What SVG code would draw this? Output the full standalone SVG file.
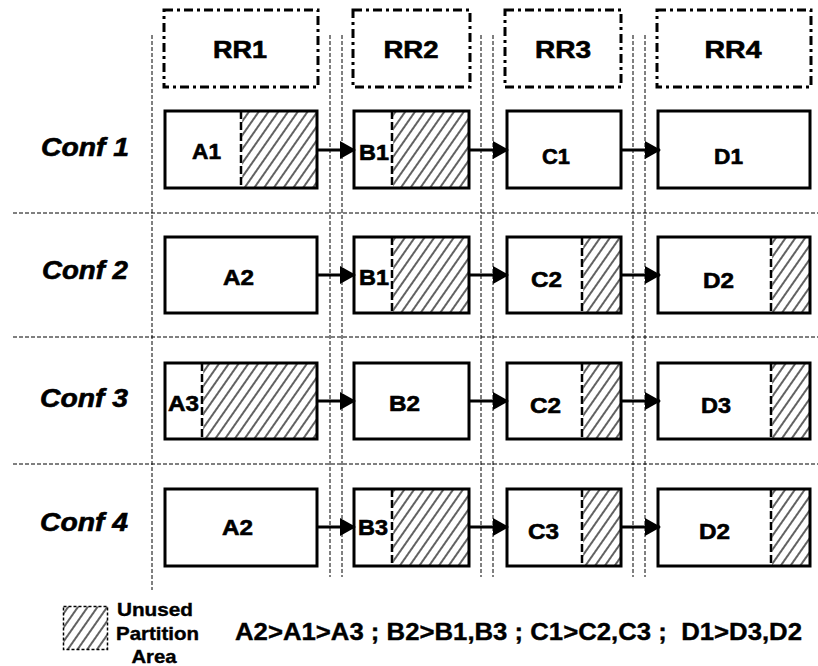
<svg xmlns="http://www.w3.org/2000/svg" width="818" height="666" viewBox="0 0 818 666">
<style>
.t{font-family:"Liberation Sans",Arial,sans-serif;font-weight:bold;fill:#000;stroke:#000;stroke-width:0.6}
.rr{font-size:23.5px;text-anchor:middle}
.lb{font-size:22px}
.cf{font-size:25px;font-style:italic}
.lg{font-size:19px;text-anchor:middle;stroke-width:0.4}
.bt{font-size:24.5px;stroke-width:0.4}
.box{fill:none;stroke:#000;stroke-width:3}
.hdr{fill:#fff;stroke:#000;stroke-width:3;stroke-dasharray:9 4 3 4}
.hat{fill:url(#hatch);stroke:none}
.dvw{stroke:#fff;stroke-width:2.5}
.dv{stroke:#000;stroke-width:2.5;stroke-dasharray:8 3}
.sep{stroke:#000;stroke-width:1;stroke-dasharray:4 2;fill:none}
.arr{stroke:#000;stroke-width:3;fill:none;marker-end:url(#ah)}
</style>
<defs>
<pattern id="hatch" patternUnits="userSpaceOnUse" width="8" height="8" patternTransform="rotate(35)">
<rect width="8" height="8" fill="#fff"/>
<line x1="4" y1="0" x2="4" y2="8" stroke="#3a3a3a" stroke-width="1.6"/>
</pattern>
<marker id="ah" markerUnits="userSpaceOnUse" markerWidth="16" markerHeight="18" refX="15" refY="9" orient="auto">
<path d="M0,0 L16,9 L0,18 z" fill="#000"/>
</marker>
</defs>
<rect width="818" height="666" fill="#fff"/>

<g id="separators">
<line class="sep" x1="13" y1="213" x2="818" y2="213"/>
<line class="sep" x1="13" y1="337" x2="818" y2="337"/>
<line class="sep" x1="13" y1="464" x2="818" y2="464"/>
<line class="sep" x1="152" y1="35" x2="152" y2="590"/>
<line class="sep" x1="330" y1="35" x2="330" y2="577"/>
<line class="sep" x1="342" y1="35" x2="342" y2="577"/>
<line class="sep" x1="481" y1="35" x2="481" y2="577"/>
<line class="sep" x1="493" y1="35" x2="493" y2="577"/>
<line class="sep" x1="633" y1="35" x2="633" y2="577"/>
<line class="sep" x1="645" y1="35" x2="645" y2="577"/>
</g>

<g id="RR1"><rect class="hdr" x="164" y="10" width="154" height="77"/><text class="t rr" x="240" y="58" textLength="54" lengthAdjust="spacingAndGlyphs">RR1</text></g>
<g id="RR2"><rect class="hdr" x="353" y="10" width="117" height="77"/><text class="t rr" x="411" y="58" textLength="55" lengthAdjust="spacingAndGlyphs">RR2</text></g>
<g id="RR3"><rect class="hdr" x="505" y="10" width="116" height="77"/><text class="t rr" x="563" y="58" textLength="56" lengthAdjust="spacingAndGlyphs">RR3</text></g>
<g id="RR4"><rect class="hdr" x="657" y="10" width="154" height="77"/><text class="t rr" x="733" y="58" textLength="57" lengthAdjust="spacingAndGlyphs">RR4</text></g>

<g id="conf1"><text class="t cf" x="41" y="156" textLength="88" lengthAdjust="spacingAndGlyphs">Conf 1</text></g>
<g id="conf2"><text class="t cf" x="42" y="279" textLength="86" lengthAdjust="spacingAndGlyphs">Conf 2</text></g>
<g id="conf3"><text class="t cf" x="40" y="407" textLength="88" lengthAdjust="spacingAndGlyphs">Conf 3</text></g>
<g id="conf4"><text class="t cf" x="40" y="531" textLength="88" lengthAdjust="spacingAndGlyphs">Conf 4</text></g>

<!-- Row 1 -->
<g id="r1-A1"><rect class="hat" x="241" y="111" width="76" height="77"/><line class="dvw" x1="241" y1="111" x2="241" y2="188"/><line class="dv" x1="241" y1="111" x2="241" y2="188"/><rect class="box" x="165" y="111" width="152" height="77"/><text class="t lb" x="192" y="159" textLength="29" lengthAdjust="spacingAndGlyphs">A1</text></g>
<g id="r1-B1"><rect class="hat" x="392" y="111" width="77" height="77"/><line class="dvw" x1="392" y1="111" x2="392" y2="188"/><line class="dv" x1="392" y1="111" x2="392" y2="188"/><rect class="box" x="354" y="111" width="115" height="77"/><text class="t lb" x="359" y="160" textLength="30" lengthAdjust="spacingAndGlyphs">B1</text></g>
<g id="r1-C1"><rect class="box" x="507" y="111" width="114" height="77"/><text class="t lb" x="542" y="164" textLength="28" lengthAdjust="spacingAndGlyphs">C1</text></g>
<g id="r1-D1"><rect class="box" x="658" y="111" width="152" height="77"/><text class="t lb" x="714" y="164" textLength="29" lengthAdjust="spacingAndGlyphs">D1</text></g>

<!-- Row 2 -->
<g id="r2-A2"><rect class="box" x="165" y="237" width="152" height="76"/><text class="t lb" x="223" y="285" textLength="31" lengthAdjust="spacingAndGlyphs">A2</text></g>
<g id="r2-B1"><rect class="hat" x="392" y="237" width="77" height="76"/><line class="dvw" x1="392" y1="237" x2="392" y2="313"/><line class="dv" x1="392" y1="237" x2="392" y2="313"/><rect class="box" x="354" y="237" width="115" height="76"/><text class="t lb" x="359" y="285" textLength="30" lengthAdjust="spacingAndGlyphs">B1</text></g>
<g id="r2-C2"><rect class="hat" x="582" y="237" width="39" height="76"/><line class="dvw" x1="582" y1="237" x2="582" y2="313"/><line class="dv" x1="582" y1="237" x2="582" y2="313"/><rect class="box" x="507" y="237" width="114" height="76"/><text class="t lb" x="531" y="287" textLength="31" lengthAdjust="spacingAndGlyphs">C2</text></g>
<g id="r2-D2"><rect class="hat" x="771" y="237" width="39" height="76"/><line class="dvw" x1="771" y1="237" x2="771" y2="313"/><line class="dv" x1="771" y1="237" x2="771" y2="313"/><rect class="box" x="658" y="237" width="152" height="76"/><text class="t lb" x="703" y="288" textLength="31" lengthAdjust="spacingAndGlyphs">D2</text></g>

<!-- Row 3 -->
<g id="r3-A3"><rect class="hat" x="202" y="363" width="115" height="76"/><line class="dvw" x1="202" y1="363" x2="202" y2="439"/><line class="dv" x1="202" y1="363" x2="202" y2="439"/><rect class="box" x="165" y="363" width="152" height="76"/><text class="t lb" x="168" y="411" textLength="31" lengthAdjust="spacingAndGlyphs">A3</text></g>
<g id="r3-B2"><rect class="box" x="354" y="363" width="115" height="76"/><text class="t lb" x="389" y="411" textLength="31" lengthAdjust="spacingAndGlyphs">B2</text></g>
<g id="r3-C2"><rect class="hat" x="582" y="363" width="39" height="76"/><line class="dvw" x1="582" y1="363" x2="582" y2="439"/><line class="dv" x1="582" y1="363" x2="582" y2="439"/><rect class="box" x="507" y="363" width="114" height="76"/><text class="t lb" x="530" y="413" textLength="31" lengthAdjust="spacingAndGlyphs">C2</text></g>
<g id="r3-D3"><rect class="hat" x="771" y="363" width="39" height="76"/><line class="dvw" x1="771" y1="363" x2="771" y2="439"/><line class="dv" x1="771" y1="363" x2="771" y2="439"/><rect class="box" x="658" y="363" width="152" height="76"/><text class="t lb" x="701" y="413" textLength="30" lengthAdjust="spacingAndGlyphs">D3</text></g>

<!-- Row 4 -->
<g id="r4-A2"><rect class="box" x="165" y="489" width="152" height="77"/><text class="t lb" x="222" y="535" textLength="31" lengthAdjust="spacingAndGlyphs">A2</text></g>
<g id="r4-B3"><rect class="hat" x="392" y="489" width="77" height="77"/><line class="dvw" x1="392" y1="489" x2="392" y2="566"/><line class="dv" x1="392" y1="489" x2="392" y2="566"/><rect class="box" x="354" y="489" width="115" height="77"/><text class="t lb" x="358" y="535" textLength="30" lengthAdjust="spacingAndGlyphs">B3</text></g>
<g id="r4-C3"><rect class="hat" x="582" y="489" width="39" height="77"/><line class="dvw" x1="582" y1="489" x2="582" y2="566"/><line class="dv" x1="582" y1="489" x2="582" y2="566"/><rect class="box" x="507" y="489" width="114" height="77"/><text class="t lb" x="528" y="539" textLength="31" lengthAdjust="spacingAndGlyphs">C3</text></g>
<g id="r4-D2"><rect class="hat" x="771" y="489" width="39" height="77"/><line class="dvw" x1="771" y1="489" x2="771" y2="566"/><line class="dv" x1="771" y1="489" x2="771" y2="566"/><rect class="box" x="658" y="489" width="152" height="77"/><text class="t lb" x="699" y="539" textLength="31" lengthAdjust="spacingAndGlyphs">D2</text></g>

<g id="connectors">
<line class="arr" x1="317" y1="150" x2="355" y2="150"/>
<line class="arr" x1="469" y1="150" x2="508" y2="150"/>
<line class="arr" x1="621" y1="150" x2="660" y2="150"/>
<line class="arr" x1="317" y1="275" x2="355" y2="275"/>
<line class="arr" x1="469" y1="275" x2="508" y2="275"/>
<line class="arr" x1="621" y1="275" x2="660" y2="275"/>
<line class="arr" x1="317" y1="401" x2="355" y2="401"/>
<line class="arr" x1="469" y1="401" x2="508" y2="401"/>
<line class="arr" x1="621" y1="401" x2="660" y2="401"/>
<line class="arr" x1="317" y1="527" x2="355" y2="527"/>
<line class="arr" x1="469" y1="527" x2="508" y2="527"/>
<line class="arr" x1="621" y1="527" x2="660" y2="527"/>
</g>

<g id="legend">
<rect x="63.5" y="606.5" width="44" height="43" fill="url(#hatch)" stroke="#000" stroke-width="1.5" stroke-dasharray="3 2"/>
<text class="t lg" x="155" y="616" textLength="76" lengthAdjust="spacingAndGlyphs">Unused</text>
<text class="t lg" x="157.5" y="640" textLength="83" lengthAdjust="spacingAndGlyphs">Partition</text>
<text class="t lg" x="154" y="663" textLength="45" lengthAdjust="spacingAndGlyphs">Area</text>
</g>

<g id="priority">
<text class="t bt" x="235" y="640" textLength="567" lengthAdjust="spacingAndGlyphs" xml:space="preserve">A2&gt;A1&gt;A3 ; B2&gt;B1,B3 ; C1&gt;C2,C3 ;  D1&gt;D3,D2</text>
</g>
</svg>
